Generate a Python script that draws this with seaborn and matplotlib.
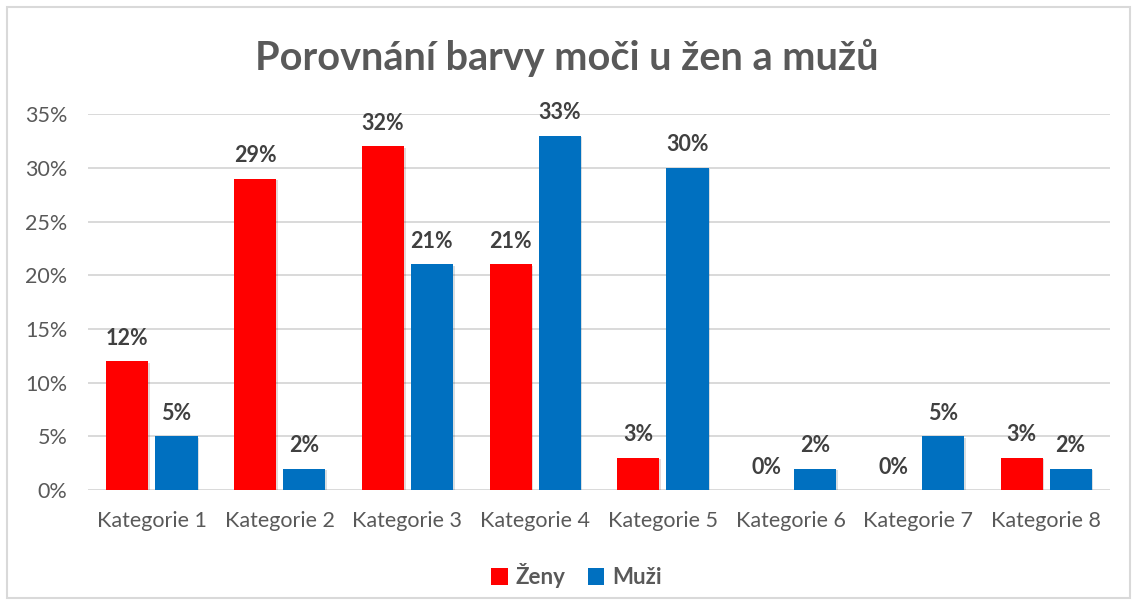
import numpy as np
import pandas as pd
import seaborn as sns
import matplotlib.pyplot as plt
import matplotlib.patheffects as pe
from matplotlib.patches import Rectangle

categories = ["Kategorie 1", "Kategorie 2", "Kategorie 3", "Kategorie 4",
              "Kategorie 5", "Kategorie 6", "Kategorie 7", "Kategorie 8"]
zeny = [12, 29, 32, 21, 3, 0, 0, 3]
muzi = [5, 2, 21, 33, 30, 2, 5, 2]
series = ["Ženy", "Muži"]
colors = ["#FF0000", "#0070C0"]
yticks = [0, 5, 10, 15, 20, 25, 30, 35]

df = pd.DataFrame({
    "kategorie": categories * 2,
    "hodnota": zeny + muzi,
    "pohlavi": [series[0]] * len(categories) + [series[1]] * len(categories),
})

sns.set_style("white")
plt.rcParams['font.family'] = ['Lato', 'DejaVu Sans']
gray = "#595959"

fig = plt.figure(figsize=(11.33, 6.05), dpi=100)
ax = fig.add_axes([0.0777, 0.19, 0.902, 0.6214])

sns.barplot(data=df, x="kategorie", y="hodnota", hue="pohlavi",
            palette=colors, width=0.768, gap=0.14, saturation=1,
            linewidth=0, ax=ax, legend=True)

for cont in ax.containers:
    for b in cont:
        b.set_linewidth(0)
        b.set_path_effects([pe.SimplePatchShadow(offset=(1.2, -1.2), alpha=0.15), pe.Normal()])
for cont, vals in zip(ax.containers, [zeny, muzi]):
    ax.bar_label(cont, labels=[f"{v}%" for v in vals], padding=9,
                 fontsize=15.5, fontweight='bold', color="#404040")

ax.set_ylim(0, 35)
ax.set_yticks(yticks)
ax.set_yticklabels([f"{t}%" for t in yticks])
ax.set_xlim(-0.5, len(categories) - 0.5)
ax.yaxis.grid(True, color="#d9d9d9", linewidth=1.4)
ax.set_axisbelow(True)
for s in ax.spines.values():
    s.set_visible(False)
ax.tick_params(axis='both', length=0, labelsize=15.5, colors=gray)
ax.tick_params(axis='x', pad=15)
ax.tick_params(axis='y', pad=15)
ax.set_xlabel("")
ax.set_ylabel("")

ax.legend(loc='center', bbox_to_anchor=(0.478, -0.228), ncol=2, frameon=False,
          handlelength=0.75, handleheight=0.75, handletextpad=0.35,
          columnspacing=1.0, labelcolor=gray, prop={'weight': 'bold', 'size': 16})

fig.text(0.5, 0.905, "Porovnání barvy moči u žen a mužů", ha='center', va='center',
         fontsize=28.5, fontweight='bold', color=gray)

fig.patches.append(Rectangle((0.006, 0.011), 0.991, 0.978, transform=fig.transFigure,
                             fill=False, edgecolor="#d9d9d9", linewidth=1.5))

fig.savefig("out.png", dpi=100)
